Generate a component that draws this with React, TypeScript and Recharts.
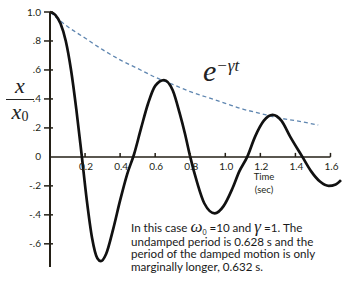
import React from 'react'
import { LineChart, Line, XAxis, YAxis, ReferenceLine, ReferenceDot } from 'recharts'

// damped motion x/x0
const timeValues = [
  0, 0.03, 0.06, 0.09, 0.12, 0.15, 0.18, 0.21, 0.24, 0.27, 0.29, 0.32, 0.36, 0.4, 0.44, 0.48,
  0.52, 0.56, 0.6, 0.65, 0.7, 0.74, 0.77, 0.8, 0.84, 0.88, 0.94, 0.99, 1.04, 1.08, 1.125, 1.17,
  1.22, 1.27, 1.32, 1.37, 1.44, 1.49, 1.54, 1.59, 1.63, 1.66,
]
const displacement = [
  1.0, 0.98, 0.92, 0.8, 0.6, 0.33, 0.02, -0.3, -0.56, -0.7, -0.72, -0.67, -0.5, -0.3, -0.12, 0.02,
  0.2, 0.37, 0.49, 0.53, 0.46, 0.3, 0.16, 0.0, -0.18, -0.32, -0.39, -0.34, -0.22, -0.1, 0.0, 0.14,
  0.25, 0.29, 0.25, 0.14, 0.0, -0.1, -0.17, -0.2, -0.19, -0.16,
]

// dashed envelope e^-γt
const envelopeTimes = [0, 0.1, 0.2, 0.3, 0.4, 0.5, 0.6, 0.7, 0.8, 0.9, 1.0, 1.1, 1.2, 1.3, 1.4, 1.53]
const envelopeValues = [1.0, 0.9, 0.82, 0.74, 0.67, 0.61, 0.55, 0.5, 0.45, 0.41, 0.37, 0.33, 0.3, 0.27, 0.25, 0.22]

const xTicks = [0.2, 0.4, 0.6, 0.8, 1.0, 1.2, 1.4, 1.6]
const yTicks = [-0.6, -0.4, -0.2, 0, 0.2, 0.4, 0.6, 0.8, 1.0]

const motionData = timeValues.map((t, i) => ({ t, x: displacement[i] }))
const envelopeData = envelopeTimes.map((t, i) => ({ t, e: envelopeValues[i] }))

const AXIS = '#231f16'
const sans = 'Lato, "Open Sans", sans-serif'
const serif = '"Liberation Serif", "DejaVu Serif", serif'

const fmtY = (v: number) => {
  if (v === 0) return '0'
  if (v === 1) return '1.0'
  const s = v.toFixed(1)
  return s.replace('0.', '.')
}

const YTick = (props: any) => {
  const { x, y, payload } = props
  const v = payload.value as number
  return (
    <g>
      {v !== 0 && <line x1={x + 2} x2={x + 11} y1={y} y2={y} stroke={AXIS} strokeWidth={1.5} />}
      <text x={x - 1} y={y} dy={3.5} textAnchor="end" fontSize={10} fontFamily={sans} fill={AXIS}>
        {fmtY(v)}
      </text>
    </g>
  )
}

const XTickMark = (label: string) => (props: any) => {
  const { cx, cy } = props
  return (
    <g>
      <line x1={cx} x2={cx} y1={cy - 4} y2={cy} stroke={AXIS} strokeWidth={1.5} />
      <text x={cx + 1} y={cy + 13} textAnchor="middle" fontSize={10} fontFamily={sans} fill={AXIS}>
        {label}
      </text>
    </g>
  )
}

const greek = { fontFamily: serif, fontStyle: 'italic', fontSize: 17, lineHeight: 0 } as const

export default function App() {
  return (
    <div style={{ position: 'absolute', left: 0, top: 0, width: 348, height: 296, background: '#fff' }}>
      <LineChart width={348} height={296} margin={{ top: 12, right: 0, bottom: 29, left: 0 }}>
        <XAxis type="number" dataKey="t" domain={[0, 1.7]} hide />
        <YAxis
          type="number"
          domain={[-0.76, 1.0]}
          ticks={yTicks}
          width={50}
          tickSize={6}
          tickMargin={2}
          tickLine={false}
          tick={<YTick />}
          axisLine={{ stroke: AXIS, strokeWidth: 2 }}
        />
        <ReferenceLine
          segment={[
            { x: 0, y: 0 },
            { x: 1.6, y: 0 },
          ]}
          stroke={AXIS}
          strokeWidth={1.5}
        />
        {xTicks.map((t) => (
          <ReferenceDot key={t} x={t} y={0} r={0} shape={XTickMark(t.toFixed(1))} />
        ))}
        <Line
          data={envelopeData}
          dataKey="e"
          type="monotone"
          stroke="#5f86b0"
          strokeWidth={1.3}
          strokeDasharray="4 3"
          dot={false}
          isAnimationActive={false}
        />
        <Line
          data={motionData}
          dataKey="x"
          type="monotone"
          stroke="#111"
          strokeWidth={2.7}
          dot={false}
          isAnimationActive={false}
        />
      </LineChart>

      {/* y label x / x0 */}
      <div style={{ position: 'absolute', left: 6, top: 74, width: 28, textAlign: 'center', fontFamily: serif, color: '#222' }}>
        <div style={{ fontSize: 22, fontStyle: 'italic', lineHeight: '24px' }}>x</div>
        <div style={{ borderTop: '1.2px solid #222', margin: '1px 0' }} />
        <div style={{ fontSize: 22, lineHeight: '22px' }}>
          <i>x</i>
          <span style={{ fontSize: 14, position: 'relative', top: 2 }}>0</span>
        </div>
      </div>

      {/* envelope label */}
      <div style={{ position: 'absolute', left: 203, top: 54, fontFamily: serif, color: '#222', whiteSpace: 'nowrap' }}>
        <span style={{ fontSize: 30, fontStyle: 'italic' }}>e</span>
        <span style={{ fontSize: 17, fontStyle: 'italic', position: 'relative', top: -10 }}>−γt</span>
      </div>

      {/* axis title */}
      <div style={{ position: 'absolute', left: 252, top: 170, width: 24, textAlign: 'center', fontFamily: sans, fontSize: 9.5, lineHeight: '13px', color: AXIS }}>
        Time
        <br />
        (sec)
      </div>

      {/* note */}
      <div style={{ position: 'absolute', left: 131, top: 220, fontFamily: sans, fontSize: 11.6, lineHeight: '12.3px', color: '#1a1a1a', whiteSpace: 'nowrap' }}>
        <div style={{ lineHeight: '16px' }}>
          In this case <span style={greek}>ω</span>
          <span style={{ fontSize: 7, lineHeight: 0, position: 'relative', top: 3 }}>0</span> =10 and{' '}
          <span style={greek}>γ</span> =1. The
        </div>
        <div>undamped period is 0.628 s and the</div>
        <div>period of the damped motion is only</div>
        <div>marginally longer, 0.632 s.</div>
      </div>
    </div>
  )
}
